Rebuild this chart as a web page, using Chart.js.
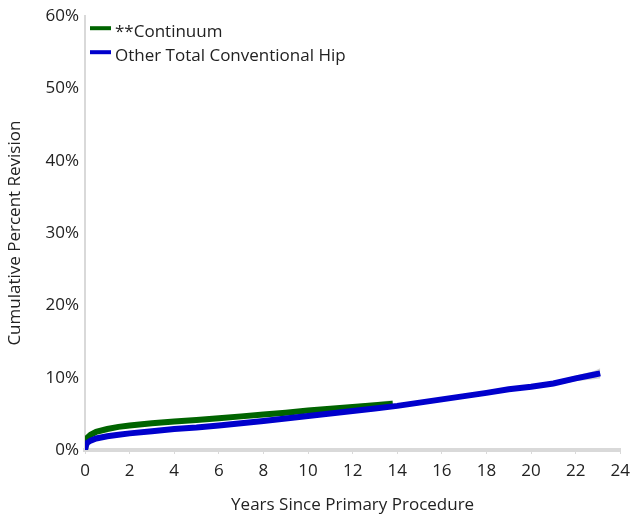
<!DOCTYPE html>
<html>
<head>
<meta charset="utf-8">
<script src="https://cdn.jsdelivr.net/npm/chart.js@4.4.1/dist/chart.umd.min.js"></script>
<style>
html,body{margin:0;padding:0;background:#fff;}
#wrap{width:637px;height:521px;}
</style>
</head>
<body>
<div id="wrap"><canvas id="c" width="637" height="521"></canvas></div>
<script>
const seriesNames = ["**Continuum", "Other Total Conventional Hip"];
const xTitle = "Years Since Primary Procedure";
const yTitle = "Cumulative Percent Revision";
const yTickValues = [0, 10, 20, 30, 40, 50, 60];
const xTickValues = [0, 2, 4, 6, 8, 10, 12, 14, 16, 18, 20, 22, 24];

const contYears = [0, 0.05, 0.1, 0.25, 0.5, 1, 1.5, 2, 3, 4, 5, 6, 7, 8, 9, 10, 11, 12, 13, 13.8];
const contPct   = [0, 1.2, 1.7, 2.1, 2.5, 2.9, 3.2, 3.4, 3.7, 3.95, 4.15, 4.4, 4.65, 4.9, 5.15, 5.45, 5.7, 5.95, 6.2, 6.4];
const contCIYears = [10, 11, 12, 13, 13.8];
const contCILow   = [5.2, 5.4, 5.6, 5.8, 5.9];
const contCIHigh  = [5.7, 6.0, 6.3, 6.6, 6.9];

const otherYears = [0, 0.05, 0.1, 0.25, 0.5, 1, 1.5, 2, 3, 4, 5, 6, 7, 8, 9, 10, 11, 12, 13, 14, 15, 16, 17, 18, 19, 20, 21, 22, 22.8, 23.1];
const otherPct   = [0, 0.7, 1.0, 1.3, 1.6, 1.9, 2.1, 2.3, 2.6, 2.9, 3.1, 3.4, 3.7, 4.0, 4.35, 4.7, 5.05, 5.4, 5.75, 6.1, 6.55, 7.0, 7.45, 7.9, 8.4, 8.75, 9.2, 9.9, 10.4, 10.6];
const otherCIYears = [19, 20, 21, 22, 22.8, 23.1];
const otherCILow   = [8.2, 8.5, 8.9, 9.5, 9.8, 9.9];
const otherCIHigh  = [8.6, 9.0, 9.5, 10.3, 10.9, 11.3];

const colors = ["#006400", "#0000cc"];
const FONT = '"Open Sans", "Noto Sans", sans-serif';

const pts = (xs, ys) => xs.map((x, i) => ({x: x, y: ys[i]}));

const legendPlugin = {
  id: 'insideLegend',
  afterDraw(chart) {
    const ctx = chart.ctx;
    const a = chart.chartArea;
    ctx.save();
    ctx.font = '17px ' + FONT;
    ctx.textBaseline = 'middle';
    ctx.fillStyle = '#222';
    const rows = [{name: seriesNames[0], col: colors[0]}, {name: seriesNames[1], col: colors[1]}];
    rows.forEach((r, i) => {
      const y = a.top + 15 + i * 24;
      ctx.strokeStyle = r.col;
      ctx.lineWidth = 4;
      ctx.beginPath();
      ctx.moveTo(a.left + 5, y - 3);
      ctx.lineTo(a.left + 26, y - 3);
      ctx.stroke();
      ctx.fillText(r.name, a.left + 30, y + 1);
    });
    ctx.restore();
  }
};

new Chart(document.getElementById('c'), {
  type: 'line',
  data: {
    datasets: [
      {label: seriesNames[1], data: pts(otherYears, otherPct), borderColor: colors[1], borderWidth: 6, pointRadius: 0, tension: 0, order: 0},
      {label: seriesNames[0], data: pts(contYears, contPct), borderColor: colors[0], borderWidth: 6, pointRadius: 0, tension: 0, order: 1},
      {label: 'ci1', data: pts(otherCIYears, otherCIHigh), borderWidth: 0, pointRadius: 0, backgroundColor: 'rgba(205,205,205,0.9)', fill: '+1', order: 2},
      {label: 'ci1l', data: pts(otherCIYears, otherCILow), borderWidth: 0, pointRadius: 0, fill: false, order: 3},
      {label: 'ci0', data: pts(contCIYears, contCIHigh), borderWidth: 0, pointRadius: 0, backgroundColor: 'rgba(215,215,215,0.9)', fill: '+1', order: 4},
      {label: 'ci0l', data: pts(contCIYears, contCILow), borderWidth: 0, pointRadius: 0, fill: false, order: 5}
    ]
  },
  options: {
    responsive: false,
    animation: false,
    layout: {padding: {top: 15, right: 9, left: 1, bottom: 0}},
    plugins: {legend: {display: false}, tooltip: {enabled: false}},
    scales: {
      x: {
        type: 'linear', min: 0, max: 24,
        afterBuildTicks: s => { s.ticks = xTickValues.map(v => ({value: v})); },
        afterFit: s => { s.height = 71; },
        ticks: {color: '#222', font: {size: 17, family: FONT}, padding: 7, maxRotation: 0},
        grid: {display: true, drawOnChartArea: false, drawTicks: true, tickLength: 4, color: '#d9d9d9', lineWidth: 1},
        border: {display: true, color: '#d9d9d9', width: 4},
        title: {display: true, text: xTitle, color: '#222', font: {size: 17, family: FONT}, padding: {top: 6, bottom: 6}}
      },
      y: {
        min: 0, max: 60,
        afterBuildTicks: s => { s.ticks = yTickValues.map(v => ({value: v})); },
        afterFit: s => { s.width = 84; },
        ticks: {color: '#222', font: {size: 17, family: FONT}, padding: 6, callback: v => v + '%'},
        grid: {display: false, drawTicks: false},
        border: {display: true, color: '#d9d9d9', width: 2},
        title: {display: true, text: yTitle, color: '#222', font: {size: 17, family: FONT}, padding: {top: 4, bottom: 4}}
      }
    }
  },
  plugins: [legendPlugin]
});
</script>
</body>
</html>
